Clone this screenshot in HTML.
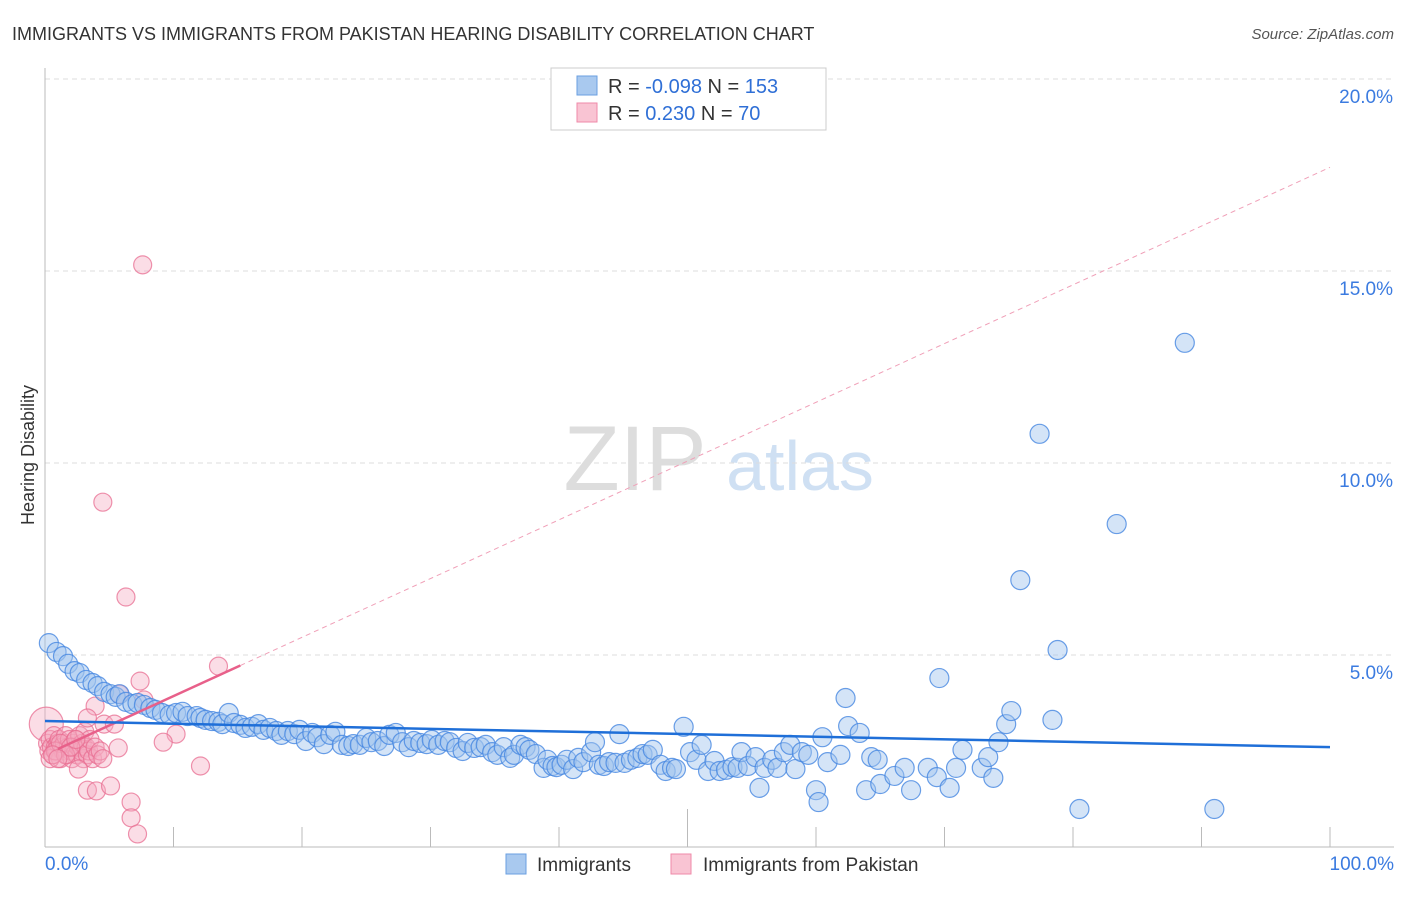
<!DOCTYPE html>
<html><head><meta charset="utf-8"><style>
body{margin:0;background:#fff;font-family:"Liberation Sans",sans-serif}
svg text{font-family:"Liberation Sans",sans-serif}
</style></head><body>
<svg id="chart" width="1406" height="892">
<text x="12" y="40" font-size="18" fill="#333">IMMIGRANTS VS IMMIGRANTS FROM PAKISTAN HEARING DISABILITY CORRELATION CHART</text>
<text x="1394" y="39" font-size="15" fill="#555" font-style="italic" text-anchor="end">Source: ZipAtlas.com</text>
<text transform="translate(34,455) rotate(-90)" font-size="18" fill="#333" text-anchor="middle">Hearing Disability</text>
<g><text x="635" y="490" font-size="92" fill="#ddd" text-anchor="middle" font-family="Liberation Serif">ZIP</text><text x="800" y="490" font-size="70" fill="#cfe0f3" text-anchor="middle">atlas</text></g>
<g id="grid"></g><g id="axes"></g><g id="pink"></g><g id="blue"></g><g id="lines"></g>
<g>
<rect x="551" y="68" width="275" height="62" fill="#fff" stroke="#ccc"/>
<rect x="577" y="76" width="20" height="19" fill="#a9c9ef" stroke="#6a9fe0"/>
<rect x="577" y="103" width="20" height="19" fill="#f9c4d3" stroke="#ef8aa8"/>
<text x="608" y="93" font-size="20" fill="#333">R = <tspan fill="#2f6fd6">-0.098</tspan>   N = <tspan fill="#2f6fd6">153</tspan></text>
<text x="608" y="120" font-size="20" fill="#333">R =  <tspan fill="#2f6fd6"> 0.230</tspan>   N =  <tspan fill="#2f6fd6"> 70</tspan></text>
</g>
<g>
<rect x="506" y="854" width="20" height="20" fill="#a9c9ef" stroke="#6a9fe0"/>
<text x="537" y="871" font-size="19" fill="#333">Immigrants</text>
<rect x="671" y="854" width="20" height="20" fill="#f9c4d3" stroke="#ef8aa8"/>
<text x="703" y="871" font-size="19" fill="#333">Immigrants from Pakistan</text>
</g>
</svg>
<script>
const yTicks=[5,10,15,20];
const yTickLabels=["5.0%","10.0%","15.0%","20.0%"];
const xTicks=[0,10,20,30,40,50,60,70,80,90,100];
const blueX=[0.3,0.9,1.4,1.8,2.3,2.7,3.2,3.7,4.1,4.6,5.1,5.5,5.8,6.3,6.8,7.2,7.7,8.2,8.6,9.1,9.7,10.2,10.7,11.1,11.8,12.1,12.5,13.0,13.5,13.8,14.3,14.7,15.2,15.6,16.1,16.6,17.0,17.5,18.0,18.4,18.9,19.4,19.8,20.3,20.8,21.2,21.7,22.2,22.6,23.1,23.6,24.0,24.5,25.0,25.4,25.9,26.4,26.8,27.3,27.8,28.3,28.7,29.2,29.7,30.1,30.6,31.1,31.5,32.0,32.5,32.9,33.4,33.9,34.3,34.8,35.2,35.7,36.2,36.5,37.0,37.4,37.7,38.2,38.8,39.1,39.5,39.8,40.2,40.6,41.1,41.5,41.9,42.5,42.8,43.1,43.5,43.9,44.4,44.7,45.1,45.6,46.1,46.5,46.9,47.3,47.9,48.3,48.8,49.1,49.7,50.2,50.7,51.1,51.6,52.1,52.5,53.0,53.5,53.9,54.2,54.7,55.3,55.6,56.0,56.6,57.0,57.5,58.0,58.4,58.9,59.4,60.0,60.2,60.5,60.9,61.9,62.3,62.5,63.4,63.9,64.3,64.8,65.0,66.1,66.9,67.4,68.7,69.4,69.6,70.4,70.9,71.4,72.9,73.4,73.8,74.2,74.8,75.2,75.9,77.4,78.4,78.8,80.5,83.4,88.7,91.0];
const blueY=[5.31,5.08,4.97,4.77,4.58,4.53,4.35,4.27,4.19,4.04,3.98,3.91,3.98,3.78,3.72,3.75,3.70,3.62,3.57,3.49,3.44,3.49,3.52,3.41,3.41,3.36,3.31,3.28,3.26,3.20,3.49,3.23,3.18,3.10,3.13,3.20,3.05,3.10,3.02,2.92,3.02,2.94,3.05,2.76,2.97,2.86,2.68,2.92,3.00,2.66,2.63,2.68,2.66,2.84,2.73,2.76,2.63,2.92,2.97,2.73,2.60,2.76,2.71,2.68,2.79,2.66,2.76,2.73,2.58,2.50,2.71,2.58,2.60,2.66,2.47,2.40,2.60,2.32,2.40,2.66,2.60,2.53,2.42,2.06,2.27,2.11,2.08,2.14,2.27,2.03,2.32,2.21,2.47,2.73,2.14,2.11,2.21,2.19,2.94,2.19,2.27,2.32,2.42,2.40,2.53,2.14,1.98,2.06,2.03,3.13,2.47,2.27,2.66,1.98,2.24,1.98,2.01,2.08,2.06,2.47,2.11,2.34,1.54,2.06,2.27,2.06,2.47,2.66,2.03,2.47,2.40,1.48,1.17,2.86,2.21,2.40,3.88,3.15,2.97,1.48,2.34,2.27,1.64,1.85,2.06,1.48,2.06,1.82,4.40,1.54,2.06,2.53,2.06,2.34,1.80,2.73,3.20,3.54,6.95,10.76,3.31,5.13,0.99,8.41,13.13,0.99];
const pinkX=[0.1,0.2,0.3,0.4,0.5,0.6,0.7,0.8,0.9,1.0,1.1,1.2,1.3,1.4,1.5,1.6,1.7,1.8,1.9,2.0,2.1,2.2,2.3,2.4,2.5,2.6,2.7,2.8,2.9,3.0,3.1,3.2,3.3,3.4,3.5,3.7,3.9,4.1,4.3,4.5,0.4,0.8,1.2,1.6,2.0,2.4,0.6,1.0,7.6,4.5,6.3,13.5,7.4,7.7,5.8,3.9,3.3,4.6,5.4,10.2,9.2,5.7,12.1,3.3,4.0,5.1,6.7,6.7,7.2,2.6];
const pinkY=[3.2,2.7,2.5,2.8,2.6,2.4,2.9,2.6,2.5,2.7,2.8,2.3,2.6,2.5,2.7,2.9,2.4,2.6,2.8,2.5,2.3,2.7,2.6,2.8,2.4,2.6,2.9,2.5,2.7,2.3,3.0,2.6,2.4,2.5,2.8,2.3,2.6,2.4,2.5,2.3,2.3,2.5,2.7,2.4,2.6,2.8,2.4,2.3,15.16,8.98,6.51,4.71,4.32,3.83,3.98,3.67,3.36,3.20,3.20,2.94,2.73,2.58,2.11,1.48,1.46,1.59,1.17,0.76,0.34,2.03];
const pinkR=[17];
const blueTrend=[3.28,2.60];
const pinkTrend=[2.4,17.7];
const pinkSolidEnd=15.2;
const X0=45,X1=1330,Y0=847,Y20=79;
const sx=v=>X0+v/100*(X1-X0);
const sy=v=>Y0-v/20*(Y0-Y20);
const NS="http://www.w3.org/2000/svg";
function mk(tag,attrs,parent){const e=document.createElementNS(NS,tag);for(const k in attrs)e.setAttribute(k,attrs[k]);parent.appendChild(e);return e;}
const grid=document.getElementById('grid'),axes=document.getElementById('axes');
yTicks.forEach((t,i)=>{
  const l=mk('line',{x1:X0,x2:1394,y1:sy(t),y2:sy(t),stroke:'#ddd','stroke-dasharray':'5,4'},grid);
  
  
  const tx=mk('text',{x:1393,y:sy(t)+24,'font-size':19,fill:'#3b7be0','text-anchor':'end'},axes);
  tx.textContent=yTickLabels[i];
  
  
});
const ax=mk('line',{x1:X0,x2:X0,y1:68,y2:Y0,stroke:'#bbb'},axes);


const bx=mk('line',{x1:X0,x2:1394,y1:Y0,y2:Y0,stroke:'#bbb'},axes);


xTicks.forEach(t=>{
  const l=mk('line',{x1:sx(t),x2:sx(t),y1:Y0,y2:t==50?809:827,stroke:'#bbb'},axes);
  
  
});
const xl=mk('text',{x:45,y:870,'font-size':19,fill:'#3b7be0'},axes);xl.textContent='0.0%';


const xr=mk('text',{x:1394,y:870,'font-size':19,fill:'#3b7be0','text-anchor':'end'},axes);xr.textContent='100.0%';


const pg=document.getElementById('pink');
pinkX.forEach((x,i)=>{
  const c=mk('circle',{cx:sx(x),cy:sy(pinkY[i]),r:i==0?pinkR[0]:9,fill:'rgba(246,170,192,0.4)',stroke:'rgba(232,110,145,0.75)','stroke-width':1.2},pg);
  
  
});
const bg=document.getElementById('blue');
blueX.forEach((x,i)=>{
  const c=mk('circle',{cx:sx(x),cy:sy(blueY[i]),r:9.5,fill:'rgba(160,196,238,0.45)',stroke:'rgba(70,135,225,0.8)','stroke-width':1.2},bg);
  
  
});
const lg=document.getElementById('lines');
const pt=v=>pinkTrend[0]+(pinkTrend[1]-pinkTrend[0])*v/100;
const pd=mk('line',{x1:sx(pinkSolidEnd),y1:sy(pt(pinkSolidEnd)),x2:sx(100),y2:sy(pt(100)),stroke:'#f0a0b8','stroke-dasharray':'5,4','stroke-width':1},lg);


const ps=mk('line',{x1:sx(1),y1:sy(pt(1)),x2:sx(pinkSolidEnd),y2:sy(pt(pinkSolidEnd)),stroke:'#e8608a','stroke-width':2.5},lg);


const bl=mk('line',{x1:sx(0),y1:sy(blueTrend[0]),x2:sx(100),y2:sy(blueTrend[1]),stroke:'#1f6fd8','stroke-width':2.5},lg);


</script>
</body></html>
